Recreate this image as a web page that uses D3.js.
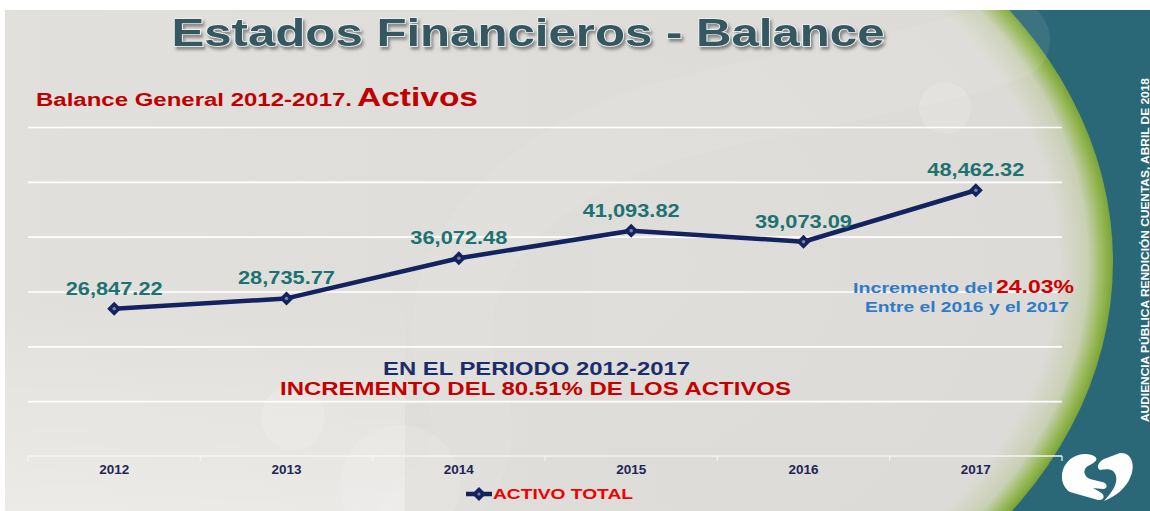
<!DOCTYPE html>
<html>
<head>
<meta charset="utf-8">
<script src="https://cdn.jsdelivr.net/npm/d3@7"></script>
<style>
  html, body { margin: 0; padding: 0; background: #fff; }
  svg { display: block; font-family: "Liberation Sans", Arial, sans-serif; }
</style>
</head>
<body>
<script>
// data
const years = ['2012', '2013', '2014', '2015', '2016', '2017'];
const activoTotal = [26847.22, 28735.77, 36072.48, 41093.82, 39073.09, 48462.32];
const gridTicks = [10000, 20000, 30000, 40000, 50000, 60000];
const seriesName = 'ACTIVO TOTAL';

const W = 1150, H = 511;
const svg = d3.select('body').append('svg').attr('width', W).attr('height', H);
const defs = svg.append('defs');

// background gradients
const rim = defs.append('radialGradient').attr('id', 'rim');
rim.append('stop').attr('offset', 0).attr('stop-color', '#e0deda');
rim.append('stop').attr('offset', 0.9).attr('stop-color', '#dddbd7');
rim.append('stop').attr('offset', 0.955).attr('stop-color', '#c9d0b4');
rim.append('stop').attr('offset', 0.985).attr('stop-color', '#93b650');
rim.append('stop').attr('offset', 1).attr('stop-color', '#7aa43a');

const fade = defs.append('linearGradient').attr('id', 'fade').attr('x1', 0).attr('x2', 1);
fade.append('stop').attr('offset', 0).attr('stop-color', '#e2e0dc').attr('stop-opacity', 1);
fade.append('stop').attr('offset', 0.8).attr('stop-color', '#dfddd9').attr('stop-opacity', 1);
fade.append('stop').attr('offset', 1).attr('stop-color', '#dfddd9').attr('stop-opacity', 0);

const low = defs.append('linearGradient').attr('id', 'low').attr('x1', 0).attr('y1', 0).attr('x2', 0).attr('y2', 1);
low.append('stop').attr('offset', 0).attr('stop-color', '#ffffff').attr('stop-opacity', 0);
low.append('stop').attr('offset', 1).attr('stop-color', '#ffffff').attr('stop-opacity', 0.35);

const sh = defs.append('filter').attr('id', 'shadow').attr('x', -0.05).attr('y', -0.3).attr('width', 1.1).attr('height', 1.6);
sh.append('feDropShadow').attr('dx', 2).attr('dy', 3).attr('stdDeviation', 1.5)
  .attr('flood-color', '#444').attr('flood-opacity', 0.55);

defs.append('clipPath').attr('id', 'slide').append('rect')
  .attr('x', 5).attr('y', 10).attr('width', W - 5).attr('height', H - 10);

const back = svg.append('g').attr('clip-path', 'url(#slide)');
back.append('rect').attr('x', 5).attr('y', 10).attr('width', W).attr('height', H).attr('fill', '#2b6877');
back.append('ellipse').attr('cx', 560).attr('cy', 262).attr('rx', 553).attr('ry', 432).attr('fill', 'url(#rim)');
back.append('rect').attr('x', 5).attr('y', 10).attr('width', 700).attr('height', H).attr('fill', 'url(#fade)');
back.append('rect').attr('x', 5).attr('y', 300).attr('width', 400).attr('height', 211).attr('fill', 'url(#low)');

// faint swoosh shapes
back.append('path')
  .attr('d', 'M1010,40 C900,80 760,90 640,130 C480,190 430,300 460,380 C490,440 460,490 420,511')
  .attr('fill', 'none').attr('stroke', '#ffffff').attr('stroke-opacity', 0.08).attr('stroke-width', 80)
  .attr('stroke-linecap', 'round');
back.append('circle').attr('cx', 945).attr('cy', 108).attr('r', 26).attr('fill', '#fff').attr('opacity', 0.15);
back.append('circle').attr('cx', 293).attr('cy', 418).attr('r', 32).attr('fill', '#fff').attr('opacity', 0.15);
back.append('circle').attr('cx', 400).attr('cy', 485).attr('r', 60).attr('fill', '#fff').attr('opacity', 0.12);

// scales
const x = d3.scaleBand().domain(years).range([28, 1062]);
const y = d3.scaleLinear().domain([0, 60000]).range([456, 127]);

// grid
const grid = svg.append('g').attr('transform', 'translate(28,0)')
  .call(d3.axisLeft(y).tickValues(gridTicks).tickSize(-1034).tickFormat(''));
grid.select('.domain').remove();
grid.selectAll('line').attr('stroke', '#ffffff').attr('stroke-width', 1.6);

// x axis
const xa = svg.append('g').attr('transform', 'translate(0,456)')
  .call(d3.axisBottom(x).tickSize(0).tickPadding(12));
xa.select('.domain').attr('stroke', '#f4f4f4').attr('stroke-width', 1.6).attr('d', 'M28,0H1062');
xa.selectAll('text').attr('font-size', 13).attr('font-weight', 'bold').attr('fill', '#1f2657')
  .attr('dy', '0.71em').attr('y', 9).attr('textLength', 30).attr('lengthAdjust', 'spacingAndGlyphs');
svg.append('g').selectAll('line').data(years.concat(['end'])).join('line')
  .attr('x1', (d, i) => x.range()[0] + i * x.step()).attr('x2', (d, i) => x.range()[0] + i * x.step())
  .attr('y1', 456).attr('y2', 461).attr('stroke', '#f4f4f4').attr('stroke-width', 1.2);

// line + markers
const pts = years.map((yr, i) => ({ yr, v: activoTotal[i] }));
const cx = d => x(d.yr) + x.bandwidth() / 2;
svg.append('path').datum(pts)
  .attr('d', d3.line().x(cx).y(d => y(d.v)))
  .attr('fill', 'none').attr('stroke', '#13235f').attr('stroke-width', 4.5).attr('stroke-linejoin', 'round');

const diamond = 'M0,-7L7,0L0,7L-7,0Z';
const mk = svg.append('g').selectAll('g').data(pts).join('g')
  .attr('transform', d => `translate(${cx(d)},${y(d.v)})`);
mk.append('path').attr('d', diamond).attr('fill', '#13235f');
mk.append('circle').attr('r', 1.8).attr('fill', '#7a80a0');

svg.append('g').selectAll('text').data(pts).join('text')
  .attr('x', cx).attr('y', d => y(d.v) - 14)
  .attr('text-anchor', 'middle').attr('font-size', 18.5).attr('font-weight', 'bold')
  .attr('fill', '#1d7272').attr('textLength', 97).attr('lengthAdjust', 'spacingAndGlyphs')
  .text(d => d3.format(',.2f')(d.v));

// titles
svg.append('text').attr('x', 528).attr('y', 46).attr('text-anchor', 'middle')
  .attr('font-size', 38).attr('font-weight', 'bold').attr('fill', '#355861')
  .attr('stroke', '#eef2f2').attr('stroke-width', 1.4).attr('paint-order', 'stroke')
  .attr('textLength', 713).attr('lengthAdjust', 'spacingAndGlyphs').attr('filter', 'url(#shadow)')
  .text('Estados Financieros  - Balance');

svg.append('text').attr('x', 36).attr('y', 106).attr('font-size', 18).attr('font-weight', 'bold')
  .attr('fill', '#c00000').attr('textLength', 316).attr('lengthAdjust', 'spacingAndGlyphs')
  .text('Balance General 2012-2017.');
svg.append('text').attr('x', 357).attr('y', 106).attr('font-size', 26).attr('font-weight', 'bold')
  .attr('fill', '#c00000').attr('textLength', 121).attr('lengthAdjust', 'spacingAndGlyphs')
  .text('Activos');

// annotations
svg.append('text').attr('x', 853).attr('y', 293).attr('font-size', 15).attr('font-weight', 'bold')
  .attr('fill', '#2f7bc7').attr('textLength', 140).attr('lengthAdjust', 'spacingAndGlyphs').text('Incremento del');
svg.append('text').attr('x', 996).attr('y', 293).attr('font-size', 19).attr('font-weight', 'bold')
  .attr('fill', '#cc0000').attr('textLength', 78).attr('lengthAdjust', 'spacingAndGlyphs').text('24.03%');
svg.append('text').attr('x', 865).attr('y', 312).attr('font-size', 15).attr('font-weight', 'bold')
  .attr('fill', '#2f7bc7').attr('textLength', 204).attr('lengthAdjust', 'spacingAndGlyphs').text('Entre el 2016 y el 2017');

svg.append('text').attr('x', 383).attr('y', 375).attr('font-size', 17.5).attr('font-weight', 'bold')
  .attr('fill', '#1b2c6b').attr('textLength', 307).attr('lengthAdjust', 'spacingAndGlyphs').text('EN EL PERIODO 2012-2017');
svg.append('text').attr('x', 280).attr('y', 395).attr('font-size', 17.5).attr('font-weight', 'bold')
  .attr('fill', '#c40000').attr('textLength', 511).attr('lengthAdjust', 'spacingAndGlyphs').text('INCREMENTO DEL 80.51% DE LOS ACTIVOS');

// legend
const lg = svg.append('g').attr('transform', 'translate(466,494)');
lg.append('line').attr('x1', 0).attr('x2', 26).attr('stroke', '#13235f').attr('stroke-width', 4.5);
lg.append('path').attr('d', diamond).attr('transform', 'translate(13,0)').attr('fill', '#13235f');
lg.append('circle').attr('cx', 13).attr('r', 1.6).attr('fill', '#7a80a0');
lg.append('text').attr('x', 27).attr('y', 5).attr('font-size', 15).attr('font-weight', 'bold')
  .attr('fill', '#f00000').attr('textLength', 140).attr('lengthAdjust', 'spacingAndGlyphs').text(seriesName);

// vertical side text
svg.append('text').attr('transform', 'translate(1149,422) rotate(-90)')
  .attr('font-size', 11.5).attr('font-weight', 'bold').attr('fill', '#ffffff')
  .attr('textLength', 344).attr('lengthAdjust', 'spacingAndGlyphs')
  .text('AUDIENCIA PÚBLICA RENDICIÓN CUENTAS, ABRIL DE 2018');

// logo (approximate)
const logo = svg.append('g').attr('fill', '#ffffff');
logo.append('path').attr('d', 'M1072,458 C1060,466 1058,484 1070,492 L1098,500 C1104,501 1106,495 1100,492 L1093,488 L1103,489 C1108,489 1108,483 1102,482 L1090,479 C1083,476 1082,468 1090,465 C1096,462 1100,458 1092,455 C1085,453 1078,454 1072,458 Z');
logo.append('path').attr('d', 'M1104,459 L1120,453 C1132,452 1136,466 1130,478 C1126,488 1116,496 1104,501 C1112,492 1118,484 1116,476 C1114,468 1106,469 1100,470 C1096,468 1098,462 1104,459 Z');
</script>
</body>
</html>
